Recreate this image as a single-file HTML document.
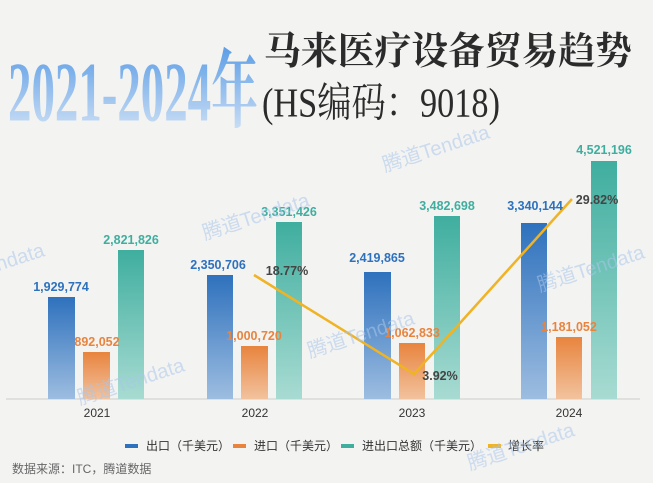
<!DOCTYPE html>
<html><head><meta charset="utf-8"><style>
html,body{margin:0;padding:0}
body{width:653px;height:483px;background:#f4f4f4;overflow:hidden;position:relative;font-family:"Liberation Sans","Noto Sans CJK SC",sans-serif}
</style></head><body>
<svg width="653" height="483" viewBox="0 0 653 483" xmlns="http://www.w3.org/2000/svg" style="position:absolute;left:0;top:0">
<defs>
<linearGradient id="t" x1="0" y1="0" x2="0" y2="1"><stop offset="0" stop-color="#5b9de6"/><stop offset="1" stop-color="#d8e6f6"/></linearGradient>
<linearGradient id="b" x1="0" y1="0" x2="0" y2="1"><stop offset="0" stop-color="#2e71bd"/><stop offset="1" stop-color="#9dbde0"/></linearGradient>
<linearGradient id="o" x1="0" y1="0" x2="0" y2="1"><stop offset="0" stop-color="#e8843e"/><stop offset="1" stop-color="#f2c29e"/></linearGradient>
<linearGradient id="g" x1="0" y1="0" x2="0" y2="1"><stop offset="0" stop-color="#3fae9f"/><stop offset="1" stop-color="#a8dbd2"/></linearGradient>
</defs>
<rect width="653" height="483" fill="#f3f3f2"/>
<g transform="scale(1,1.7)">
<text x="8" y="71" font-family="Liberation Serif,Noto Serif CJK SC,serif" font-size="50" font-weight="bold" fill="url(#t)" textLength="250" lengthAdjust="spacingAndGlyphs">2021-2024年</text>
</g>
<text x="264" y="64" font-family="Noto Serif CJK SC,serif" font-size="38" font-weight="bold" fill="#2b2b2b" textLength="368" lengthAdjust="spacingAndGlyphs">马来医疗设备贸易趋势</text>
<g transform="scale(1,1.2)">
<text x="262" y="97" font-family="Liberation Serif,Noto Serif CJK SC,serif" font-size="34" fill="#2b2b2b" textLength="238" lengthAdjust="spacingAndGlyphs">(HS编码：9018)</text>
</g>
<line x1="6" y1="399" x2="640" y2="399" stroke="#ccc" stroke-width="1"/>
<g>
<rect x="48" y="297" width="27" height="102" fill="url(#b)"/>
<rect x="83" y="352" width="27" height="47" fill="url(#o)"/>
<rect x="118" y="250" width="26" height="149" fill="url(#g)"/>
<rect x="207" y="275" width="26" height="124" fill="url(#b)"/>
<rect x="241" y="346" width="27" height="53" fill="url(#o)"/>
<rect x="276" y="222" width="26" height="177" fill="url(#g)"/>
<rect x="364" y="272" width="27" height="127" fill="url(#b)"/>
<rect x="399" y="343" width="26" height="56" fill="url(#o)"/>
<rect x="434" y="216" width="26" height="183" fill="url(#g)"/>
<rect x="521" y="223" width="26" height="176" fill="url(#b)"/>
<rect x="556" y="337" width="26" height="62" fill="url(#o)"/>
<rect x="591" y="161" width="26" height="238" fill="url(#g)"/>
</g>
<polyline points="254,275 414,374 572,199" fill="none" stroke="#f0b323" stroke-width="2.5"/>
<g font-size="12.5" text-anchor="middle" font-weight="bold">
<text x="61" y="291" fill="#2e71bd">1,929,774</text>
<text x="97" y="346" fill="#e8843e">892,052</text>
<text x="131" y="244" fill="#3fae9f">2,821,826</text>
<text x="218" y="269" fill="#2e71bd">2,350,706</text>
<text x="254" y="340" fill="#e8843e">1,000,720</text>
<text x="289" y="216" fill="#3fae9f">3,351,426</text>
<text x="377" y="262" fill="#2e71bd">2,419,865</text>
<text x="412" y="337" fill="#e8843e">1,062,833</text>
<text x="447" y="210" fill="#3fae9f">3,482,698</text>
<text x="535" y="210" fill="#2e71bd">3,340,144</text>
<text x="569" y="331" fill="#e8843e">1,181,052</text>
<text x="604" y="154" fill="#3fae9f">4,521,196</text>
<text x="287" y="275" fill="#444">18.77%</text>
<text x="440" y="380" fill="#444">3.92%</text>
<text x="597" y="204" fill="#444">29.82%</text>
</g>
<g font-size="12" fill="#333" text-anchor="middle">
<text x="97" y="417">2021</text><text x="255" y="417">2022</text><text x="412" y="417">2023</text><text x="569" y="417">2024</text>
</g>
<g font-size="12" fill="#333">
<rect x="125" y="444" width="13" height="4" fill="#2e71bd"/><text x="146" y="450">出口（千美元）</text>
<rect x="233" y="444" width="13" height="4" fill="#e8843e"/><text x="254" y="450">进口（千美元）</text>
<rect x="341" y="444" width="13" height="4" fill="#3fae9f"/><text x="362" y="450">进出口总额（千美元）</text>
<rect x="488" y="444" width="13" height="4" fill="#f0b323"/><text x="508" y="450">增长率</text>
</g>
<text x="12" y="473" font-size="12" fill="#666">数据来源：ITC，腾道数据</text>
<g font-size="20" fill="#a9c6ea" opacity="0.55">
<text x="385" y="172" transform="rotate(-18 385 172)">腾道Tendata</text>
<text x="205" y="240" transform="rotate(-18 205 240)">腾道Tendata</text>
<text x="310" y="358" transform="rotate(-18 310 358)">腾道Tendata</text>
<text x="540" y="292" transform="rotate(-18 540 292)">腾道Tendata</text>
<text x="80" y="405" transform="rotate(-18 80 405)">腾道Tendata</text>
<text x="470" y="470" transform="rotate(-18 470 470)">腾道Tendata</text>
<text x="-60" y="290" transform="rotate(-18 -60 290)">腾道Tendata</text>
</g>
</svg>
</body></html>
